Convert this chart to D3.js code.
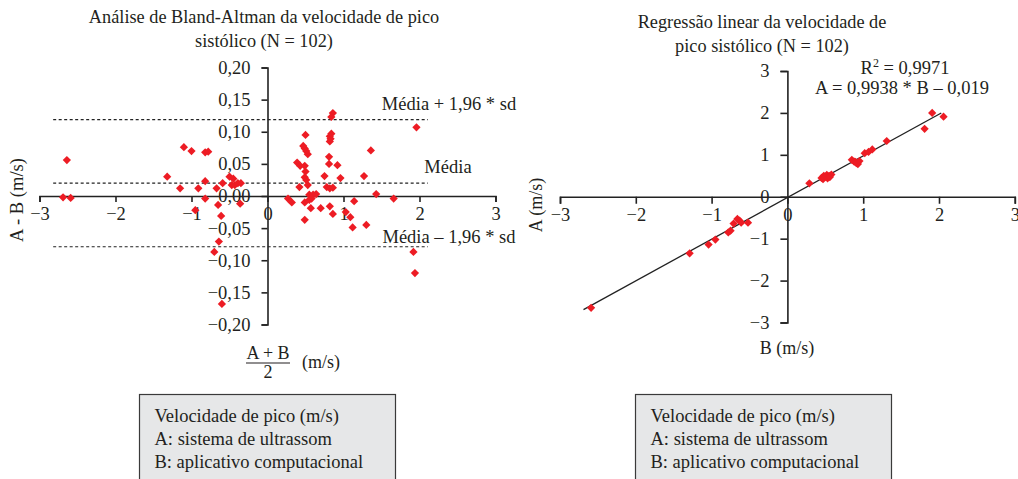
<!DOCTYPE html>
<html>
<head>
<meta charset="utf-8">
<script src="https://cdn.jsdelivr.net/npm/d3@7"></script>
<style>
  body { margin: 0; background: #fff; }
</style>
</head>
<body>
<div id="chart"></div>
<script>
// Bland-Altman: mean (A+B)/2 and difference A-B (m/s)
var baMean = [-2.64, -2.69, -2.59, -1.32, -1.15, -1.10, -1.00, -0.82, -0.91, -0.82, -0.82, -0.78,
  -0.67, -0.59, -0.50, -0.45, -0.47, -0.43, -0.39, -0.35, -0.65, -0.36, -0.95, -0.61, -0.64, -0.70, -0.60,
  0.27, 0.32, 0.39, 0.43, 0.42, 0.47, 0.49, 0.51, 0.53, 0.50, 0.49, 0.50, 0.49, 0.51, 0.53, 0.55, 0.60, 0.64,
  0.49, 0.55, 0.58, 0.75, 0.81, 0.81, 0.82, 0.83, 0.84, 0.82, 0.86, 0.84, 0.92, 0.96, 0.78, 0.82, 0.86,
  1.36, 1.27, 1.43, 1.66, 1.96, 0.57, 0.70, 0.82, 1.14, 0.49, 0.86, 1.03, 1.09, 1.12, 1.30, 1.92, 1.94];
var baDiff = [0.056, -0.002, -0.003, 0.030, 0.012, 0.076, 0.070, 0.023, 0.012, -0.004, 0.068, 0.069,
  0.012, 0.020, 0.030, 0.027, 0.017, 0.017, 0.020, 0.020, -0.014, -0.012, -0.022, -0.031, -0.071, -0.087, -0.168,
  -0.004, -0.010, 0.052, 0.047, 0.014, 0.078, 0.074, 0.070, 0.065, 0.095, 0.047, 0.038, 0.029, 0.025, 0.017, 0.002, 0.002, 0.003,
  -0.010, -0.006, -0.004, 0.031, 0.061, 0.050, 0.093, 0.089, 0.097, 0.085, 0.129, 0.123, 0.048, 0.028, 0.014, 0.012, 0.013,
  0.071, 0.031, 0.003, -0.004, 0.107, -0.019, -0.019, -0.016, -0.008, -0.037, -0.028, -0.025, -0.033, -0.049, -0.045, -0.087, -0.120];
var baMeanLine = 0.020;
var baUpper = 0.119;
var baLower = -0.079;

// Regression: B (x) vs A (y)
var regB = [-2.59, -1.29, -1.04, -0.95, -0.78, -0.75, -0.71, -0.66, -0.63, -0.61, -0.52,
  0.29, 0.45, 0.48, 0.50, 0.52, 0.55, 0.58, 0.47, 0.53, 0.56, 0.85, 0.88, 0.91, 0.93, 0.90, 0.95,
  1.02, 1.07, 1.12, 1.31, 1.81, 1.91, 2.06];
var regA = [-2.65, -1.35, -1.14, -1.02, -0.85, -0.81, -0.64, -0.53, -0.57, -0.62, -0.62,
  0.32, 0.45, 0.50, 0.48, 0.52, 0.50, 0.53, 0.42, 0.44, 0.47, 0.88, 0.84, 0.80, 0.78, 0.83, 0.85,
  1.04, 1.07, 1.13, 1.33, 1.62, 2.00, 1.91];
var regSlope = 0.9938, regIntercept = -0.019;
var regRange = [-2.69, 2.03];

var xTicks = [-3, -2, -1, 0, 1, 2, 3];
var baYTicks = [-0.20, -0.15, -0.10, -0.05, 0.00, 0.05, 0.10, 0.15, 0.20];
var regYTicks = [-3, -2, -1, 0, 1, 2, 3];
var legendLines = ["Velocidade de pico (m/s)", "A: sistema de ultrassom", "B: aplicativo computacional"];

var W = 1018, H = 479;
var svg = d3.select("#chart").append("svg")
  .attr("width", W).attr("height", H);

function fmtNum(d, dec) {
  var s = Math.abs(d).toFixed(dec).replace(".", ",");
  return (d < -1e-9 ? "\u2212" : "") + s;
}
var diamond = d3.symbol().type(d3.symbolSquare).size(34);

// plain text helper, serif like the original figure
function label(parent, x, y, s, anchor, size) {
  return parent.append("text")
    .attr("x", x).attr("y", y)
    .attr("text-anchor", anchor || "start")
    .attr("fill", "#231f20")
    .style("font-family", "'Liberation Serif'")
    .style("font-size", (size || 18.5) + "px")
    .text(s);
}

function styleAxis(g) {
  g.select(".domain").attr("stroke", "#222").attr("stroke-width", 1.6);
  g.selectAll(".tick line").attr("stroke", "#222").attr("stroke-width", 1.6);
  g.selectAll(".tick text").attr("fill", "#231f20")
    .style("font-family", "'Liberation Serif'").style("font-size", "18.5px");
}

// ---------- Left: Bland-Altman ----------
var x1 = d3.scaleLinear().domain([-3, 3]).range([39.5, 495.5]);
var y1 = d3.scaleLinear().domain([-0.2, 0.2]).range([324.5, 67.5]);

svg.append("g").attr("transform", "translate(0," + y1(0) + ")")
  .call(d3.axisBottom(x1).tickValues(xTicks).tickSize(6).tickPadding(5)
    .tickFormat(function(d){ return fmtNum(d, 0); }))
  .call(styleAxis);
svg.append("g").attr("transform", "translate(" + x1(0) + ",0)")
  .call(d3.axisLeft(y1).tickValues(baYTicks).tickSize(6).tickPadding(11)
    .tickFormat(function(d){ return fmtNum(d, 2); }))
  .call(styleAxis);

// limits of agreement
[baUpper, baMeanLine, baLower].forEach(function(v){
  svg.append("line")
    .attr("x1", x1(-2.82)).attr("x2", x1(2.11))
    .attr("y1", y1(v)).attr("y2", y1(v))
    .attr("stroke", "#222").attr("stroke-width", 1.2)
    .attr("stroke-dasharray", "3,2.5");
});

svg.append("g").selectAll("path")
  .data(d3.range(baMean.length))
  .enter().append("path")
    .attr("d", diamond)
    .attr("transform", function(i){ return "translate(" + x1(baMean[i]) + "," + y1(baDiff[i]) + ") rotate(45)"; })
    .attr("fill", "#ed1c24");

label(svg, 449, 110, "Média + 1,96 * sd", "middle");
label(svg, 448, 173, "Média", "middle");
label(svg, 449, 243, "Média \u2013 1,96 * sd", "middle");

label(svg, 264, 23, "Análise de Bland-Altman da velocidade de pico", "middle", 18.3);
label(svg, 264, 47, "sistólico (N = 102)", "middle", 18.3);

label(svg, 0, 0, "A - B (m/s)", "middle").attr("transform", "translate(23,200) rotate(-90)");

// fraction label
label(svg, 268, 359, "A + B", "middle", 18);
svg.append("line").attr("x1", 246).attr("x2", 290).attr("y1", 363).attr("y2", 363)
  .attr("stroke", "#231f20").attr("stroke-width", 1.2);
label(svg, 268, 378, "2", "middle", 18);
label(svg, 302, 368, "(m/s)", "start", 18);

// ---------- Right: regression ----------
var x2 = d3.scaleLinear().domain([-3, 3]).range([560, 1014.8]);
var y2 = d3.scaleLinear().domain([-3, 3]).range([322.5, 71]);

svg.append("g").attr("transform", "translate(0," + y2(0) + ")")
  .call(d3.axisBottom(x2).tickValues(xTicks).tickSize(7).tickPadding(4)
    .tickFormat(function(d){ return fmtNum(d, 0); }))
  .call(styleAxis);
svg.append("g").attr("transform", "translate(" + x2(0) + ",0)")
  .call(d3.axisLeft(y2).tickValues(regYTicks).tickSize(7).tickPadding(11)
    .tickFormat(function(d){ return fmtNum(d, 0); }))
  .call(styleAxis);

svg.append("line")
  .attr("x1", x2(regRange[0])).attr("y1", y2(regSlope * regRange[0] + regIntercept))
  .attr("x2", x2(regRange[1])).attr("y2", y2(regSlope * regRange[1] + regIntercept))
  .attr("stroke", "#222").attr("stroke-width", 1.3);

svg.append("g").selectAll("path")
  .data(d3.range(regB.length))
  .enter().append("path")
    .attr("d", diamond)
    .attr("transform", function(i){ return "translate(" + x2(regB[i]) + "," + y2(regA[i]) + ") rotate(45)"; })
    .attr("fill", "#ed1c24");

var r2 = label(svg, 905, 74, "", "middle");
r2.append("tspan").text("R");
r2.append("tspan").attr("dy", -7).style("font-size", "12px").text("2");
r2.append("tspan").attr("dy", 7).text(" = 0,9971");
label(svg, 902, 94, "A = 0,9938 * B \u2013 0,019", "middle");

label(svg, 762, 28, "Regressão linear da velocidade de", "middle", 18.3);
label(svg, 762, 52, "pico sistólico (N = 102)", "middle", 18.3);
label(svg, 0, 0, "A (m/s)", "middle", 18).attr("transform", "translate(542,205) rotate(-90)");
label(svg, 787, 354, "B (m/s)", "middle", 18);

// ---------- legend boxes ----------
[139.5, 635.5].forEach(function(bx){
  var g = svg.append("g").attr("transform", "translate(" + bx + ",394.5)");
  g.append("rect").attr("width", 256).attr("height", 100)
    .attr("fill", "#e6e7e8").attr("stroke", "#3a3a3a").attr("stroke-width", 1.2);
  legendLines.forEach(function(s, i){
    label(g, 15, 27 + i * 23, s);
  });
});
</script>
</body>
</html>
